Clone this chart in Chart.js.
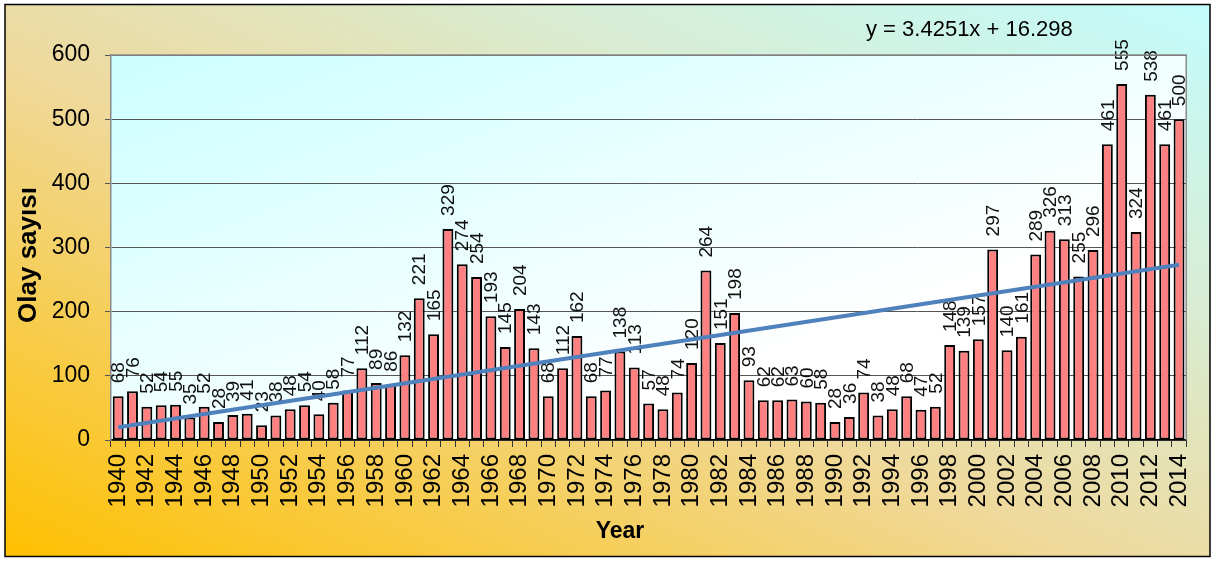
<!DOCTYPE html>
<html>
<head>
<meta charset="utf-8">
<title>Olay sayısı 1940-2014</title>
<script src="https://cdn.jsdelivr.net/npm/chart.js@4.4.1/dist/chart.umd.min.js"></script>
<style>
  html, body { margin: 0; padding: 0; background: #fff; }
  #wrap { width: 1215px; height: 561px; }
</style>
</head>
<body>
<div id="wrap"><canvas id="olayChart" width="1215" height="561"></canvas></div>
<script>
// yearly event counts
const years = [
  '1940','1941','1942','1943','1944','1945','1946','1947','1948','1949',
  '1950','1951','1952','1953','1954','1955','1956','1957','1958','1959',
  '1960','1961','1962','1963','1964','1965','1966','1967','1968','1969',
  '1970','1971','1972','1973','1974','1975','1976','1977','1978','1979',
  '1980','1981','1982','1983','1984','1985','1986','1987','1988','1989',
  '1990','1991','1992','1993','1994','1995','1996','1997','1998','1999',
  '2000','2001','2002','2003','2004','2005','2006','2007','2008','2009',
  '2010','2011','2012','2013','2014'
];
const counts = [
  68, 76, 52, 54, 55, 35, 52, 28, 39, 41,
  23, 38, 48, 54, 40, 58, 77, 112, 89, 86,
  132, 221, 165, 329, 274, 254, 193, 145, 204, 143,
  68, 112, 162, 68, 77, 138, 113, 57, 48, 74,
  120, 264, 151, 198, 93, 62, 62, 63, 60, 58,
  28, 36, 74, 38, 48, 68, 47, 52, 148, 139,
  157, 297, 140, 161, 289, 326, 313, 255, 296, 461,
  555, 324, 538, 461, 500
];
const yTicks = [0, 100, 200, 300, 400, 500, 600];

// linear trend as given by the equation label (x = 1 .. n)
const trendSlope = 3.4251;
const trendIntercept = 16.298;
const trendLabel = 'y = 3.4251x + 16.298';

const FONT = '"Liberation Sans", Arial, sans-serif';

// trend line only needs its two ends
const trendData = years.map(() => null);
trendData[0] = trendSlope * 1 + trendIntercept;
trendData[years.length - 1] = trendSlope * years.length + trendIntercept;

// backgrounds + outer frame
const backdrop = {
  id: 'backdrop',
  beforeDraw(chart) {
    const ctx = chart.ctx;
    const W = chart.width, H = chart.height;
    const a = chart.chartArea;
    ctx.save();
    ctx.fillStyle = '#fff';
    ctx.fillRect(0, 0, W, H);

    // outer: orange bottom-left -> pale cyan top-right
    ctx.save();
    ctx.translate(5, 4);
    ctx.scale(W - 10, H - 8);
    let g = ctx.createLinearGradient(0, 1, 1, 0);
    g.addColorStop(0, '#ffc000');
    g.addColorStop(0.45, '#efd99c');
    g.addColorStop(0.75, '#d6eed8');
    g.addColorStop(1, '#c2fcfc');
    ctx.fillStyle = g;
    ctx.fillRect(0, 0, 1, 1);
    ctx.restore();

    ctx.strokeStyle = '#000';
    ctx.lineWidth = 1.5;
    ctx.strokeRect(5, 4.5, W - 10, H - 9);

    // plot area: light cyan top-left fading to white
    ctx.save();
    ctx.translate(a.left, a.top);
    ctx.scale(a.right - a.left, a.bottom - a.top);
    g = ctx.createLinearGradient(0, 0, 1, 1);
    g.addColorStop(0, '#ccffff');
    g.addColorStop(0.7, '#ffffff');
    g.addColorStop(1, '#ffffff');
    ctx.fillStyle = g;
    ctx.fillRect(0, 0, 1, 1);
    ctx.restore();
    ctx.restore();
  }
};

// value labels, rotated, above each bar
const barLabels = {
  id: 'barLabels',
  afterDatasetDraw(chart, args) {
    if (args.index !== 0) return;
    const ctx = chart.ctx;
    const meta = chart.getDatasetMeta(0);
    ctx.save();
    ctx.font = '19px ' + FONT;
    ctx.fillStyle = '#111';
    ctx.textAlign = 'left';
    ctx.textBaseline = 'middle';
    meta.data.forEach((bar, i) => {
      ctx.save();
      ctx.translate(bar.x + 1, bar.y - 13);
      ctx.rotate(-Math.PI / 2);
      ctx.fillText(String(counts[i]), 0, 0);
      ctx.restore();
    });
    ctx.restore();
  }
};

// plot border, axis titles, equation
const extras = {
  id: 'extras',
  afterDraw(chart) {
    const ctx = chart.ctx;
    const a = chart.chartArea;
    ctx.save();
    ctx.strokeStyle = '#8a8a8a';
    ctx.lineWidth = 1.5;
    ctx.beginPath();
    ctx.moveTo(a.left, a.top);
    ctx.lineTo(a.right, a.top);
    ctx.lineTo(a.right, a.bottom);
    ctx.stroke();

    ctx.fillStyle = '#000';
    ctx.font = 'bold 23px ' + FONT;
    ctx.textAlign = 'center';
    ctx.textBaseline = 'middle';
    ctx.fillText('Year', 620, 532);

    ctx.save();
    ctx.translate(29, 255);
    ctx.rotate(-Math.PI / 2);
    ctx.font = 'bold 26px ' + FONT;
    ctx.fillText('Olay sayısı', 0, 0);
    ctx.restore();

    ctx.font = '22px ' + FONT;
    ctx.textAlign = 'left';
    ctx.fillText(trendLabel, 866, 30);
    ctx.restore();
  }
};

new Chart(document.getElementById('olayChart'), {
  data: {
    labels: years,
    datasets: [
      {
        type: 'bar',
        data: counts,
        backgroundColor: '#ff8080',
        borderColor: '#000',
        borderWidth: 2,
        borderSkipped: false,
        barPercentage: 0.76,
        categoryPercentage: 1,
        order: 2
      },
      {
        type: 'line',
        data: trendData,
        borderColor: '#4f81bd',
        borderWidth: 4,
        pointRadius: 0,
        spanGaps: true,
        order: 1
      }
    ]
  },
  options: {
    responsive: false,
    animation: false,
    events: [],
    layout: { padding: { left: 0, top: 55, right: 24, bottom: 0 } },
    plugins: {
      legend: { display: false },
      tooltip: { enabled: false }
    },
    scales: {
      x: {
        offset: true,
        afterFit(scale) { scale.height = 121; },
        grid: {
          offset: true,
          drawOnChartArea: false,
          tickLength: 7,
          tickColor: '#333',
          lineWidth: 1
        },
        border: { color: '#000', width: 1.5 },
        ticks: {
          autoSkip: false,
          minRotation: 90,
          maxRotation: 90,
          padding: 7,
          color: '#000',
          font: { family: FONT, size: 24 },
          callback(v, i) { return i % 2 === 0 ? years[i] : ''; }
        }
      },
      y: {
        min: yTicks[0],
        max: yTicks[yTicks.length - 1],
        afterFit(scale) { scale.width = 111; },
        afterBuildTicks(scale) { scale.ticks = yTicks.map(v => ({ value: v })); },
        grid: {
          color: '#555',
          lineWidth: 1,
          tickLength: 6,
          tickColor: '#555'
        },
        border: { color: '#8a8a8a', width: 1.5 },
        ticks: {
          padding: 15,
          color: '#000',
          font: { family: FONT, size: 23 }
        }
      }
    }
  },
  plugins: [backdrop, barLabels, extras]
});
</script>
</body>
</html>
